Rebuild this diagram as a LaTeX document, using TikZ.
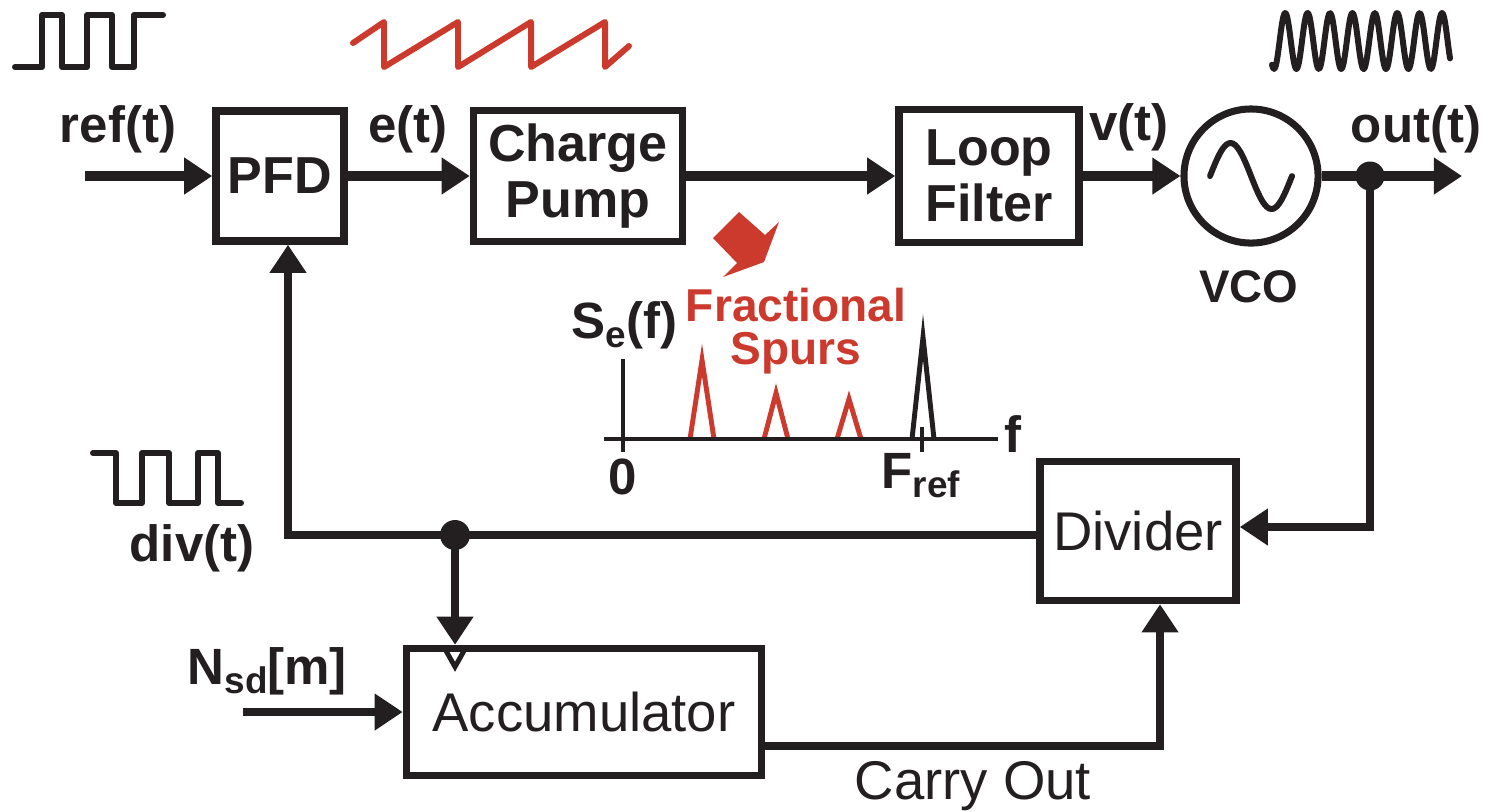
\documentclass[tikz,border=0pt]{standalone}
\usepackage{fontspec}
\setmainfont{Liberation Sans}
\usepackage{tikz}
\usetikzlibrary{arrows.meta, positioning, calc}
\definecolor{pllblack}{RGB}{35,31,32}
\definecolor{pllred}{RGB}{204,57,45}
\newcommand{\pllsub}[1]{\raisebox{-2.8pt}{\fontsize{10.5}{11}\selectfont #1}}

\begin{document}
\begin{tikzpicture}[x=0.01cm, y=-0.01cm,
  block/.style={draw=pllblack, line width=2.1pt, inner sep=0pt, align=center,
    text=pllblack, font=\fontsize{14.8}{16}\selectfont\bfseries},
  plainblock/.style={draw=pllblack, line width=2.1pt, inner sep=0pt,
    text=pllblack, font=\fontsize{15.5}{18}\selectfont},
  sig/.style={draw=pllblack, line width=2.8pt, -{Triangle[length=8pt, width=10pt]}},
  fb/.style={sig, line width=2.3pt},
  wire/.style={draw=pllblack, line width=2.8pt},
  lbl/.style={text=pllblack, inner sep=0pt, font=\fontsize{14.5}{17}\selectfont\bfseries},
  wave/.style={line width=1.7pt, line join=round, line cap=round},
  spec/.style={draw=pllblack, line width=1.4pt}]
% background
\fill[white] (0,0) rectangle (1489,811);

% ---- waveforms ----
\draw[wave, pllblack] (15,67) -- (42,67) -- (42,15) -- (62,15) -- (62,67) -- (87,67)
  -- (87,15) -- (112,15) -- (112,67) -- (134,67) -- (134,15) -- (163,15);
\draw[wave, pllred] (353,43) -- (384,22) -- (384,67) -- (458,22) -- (458,67) -- (531,22)
  -- (531,67) -- (605,22) -- (605,67) -- (629,46);
\draw[wave, pllblack] plot[domain=-2:176, samples=220, smooth]
  ({1274+\x}, {41+28*cos(16.07*\x)});
\draw[wave, pllblack] (93,453) -- (116,453) -- (116,503) -- (142,503) -- (142,453) -- (169,453)
  -- (169,503) -- (198,503) -- (198,453) -- (218,453) -- (218,503) -- (241,503);

% ---- blocks ----
\node[block, minimum width=1.28cm, minimum height=1.30cm] (pfd) at (280,176) {PFD};
\node[block, minimum width=2.09cm, minimum height=1.31cm] (cp) at (578,176) {Charge\\Pump};
\node[block, minimum width=1.80cm, minimum height=1.33cm] (lf) at (989,176) {Loop\\Filter};
\node[circle, draw=pllblack, line width=2pt, minimum size=1.34cm, inner sep=0pt] (vco) at (1251,176) {};
\draw[wave, pllblack] plot[domain=0:1, samples=40, smooth] ({1210+82*\x}, {176-33*sin(360*\x)});
\node[plainblock, minimum width=1.96cm, minimum height=1.39cm] (div) at (1138,531) {Divider};
\node[plainblock, minimum width=3.55cm, minimum height=1.27cm] (acc) at (584,712) {Accumulator};

% ---- forward path ----
\coordinate (refin) at (85,176);
\coordinate (odot) at (1370,176);
\coordinate (outend) at (1462,176);
\draw[sig] (refin) -- (pfd);
\draw[sig] (pfd) -- (cp);
\draw[sig] (cp) -- (lf);
\draw[sig] (lf) -- (vco);
\draw[wire] (vco) -- (odot);
\draw[sig] (odot) -- (outend);
\fill[pllblack] (odot) circle[radius=0.145cm];

% ---- feedback path ----
\coordinate (fbdot) at (455,535);
\coordinate (nin) at (243,712);
\draw[fb] (odot) |- ([yshift=0.04cm]div.east);
\draw[fb] ([yshift=-0.04cm]div.west) -| ([xshift=0.08cm]pfd.south);
\fill[pllblack] (fbdot) circle[radius=0.15cm];
\draw[fb] (fbdot) -- (fbdot |- acc.north);
\draw[pllblack, line width=1.4pt] ($(fbdot |- acc.north)+(-9,6)$) -- ++(9,16) -- ++(9,-16);
\draw[fb] (nin) -- (acc);
\draw[fb] ([yshift=-0.34cm]acc.east) -| ([xshift=0.22cm]div.south);

% ---- signal labels ----
\node[lbl] (reflbl) at (118,129) {ref(t)};
\node[lbl] (elbl) at (408,129) {e(t)};
\node[lbl] (vlbl) at (1129,127) {v(t)};
\node[lbl] (outlbl) at (1416,129) {out(t)};
\node[lbl, font=\fontsize{13}{15}\selectfont\bfseries] (vcolbl) at (1249,287) {VCO};
\node[lbl] (divlbl) at (192,548) {div(t)};
\node[lbl, anchor=base west] (nsdlbl) at (187,684) {N\pllsub{sd}[m]};
\node[plainblock, draw=none] (carrylbl) at (973,786) {Carry Out};

% ---- spectrum ----
\foreach \px/\pk in {702/360, 776/393, 849/399}{
  \draw[pllred, line width=1.4pt] (\px-12,439) -- (\px,\pk) -- (\px+12,439);
}
\draw[spec] (912,439) -- (923,337) -- (934,439);
\draw[spec] (604,439) -- (998,439);
\draw[spec] (623,359) -- (623,452);
\draw[spec] (922,427) -- (922,452);
\node[lbl, anchor=base east] (selbl) at (678,338) {S\pllsub{e}(f)};
\node[lbl] (flbl) at (1013,434) {f};
\node[lbl] (zerolbl) at (623,477) {0};
\node[lbl, anchor=base west] (freflbl) at (881,488) {F\pllsub{ref}};
\node[lbl, text=pllred, align=center, font=\fontsize{13.1}{12.4}\selectfont\bfseries] (spurlbl)
  at (796,331) {Fractional\\Spurs};
\fill[pllred] (739,212) -- (765,235) -- (779,222) -- (764,262) -- (723,277) -- (737,263) -- (713,238) -- cycle;
\end{tikzpicture}
\end{document}
